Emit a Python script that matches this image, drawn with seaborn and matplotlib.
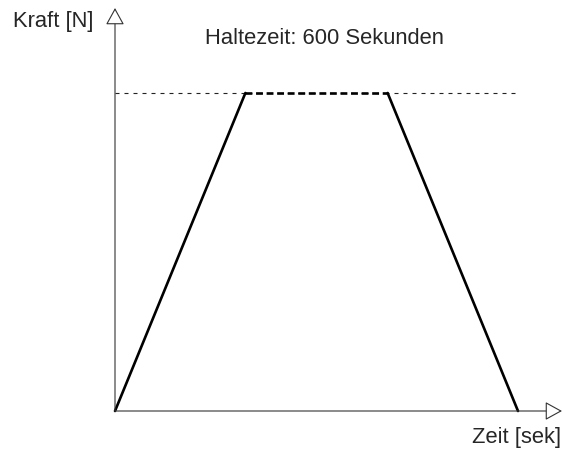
import numpy as np
import pandas as pd
import seaborn as sns
import matplotlib.pyplot as plt

# --- Data (illustrative force profile) ---
zeit = [0, 550, 1150, 1700]          # seconds
kraft = [0, 100, 100, 0]             # force level
phase = ["Anstieg", "Halten", "Abfall"]
y_label = "Kraft [N]"
x_label = "Zeit [sek]"
title = "Haltezeit: 600 Sekunden"

# --- Figure setup ---
sns.set_theme(style="white")
plt.rcParams["font.family"] = ["Liberation Sans", "DejaVu Sans"]
fig = plt.figure(figsize=(5.66, 4.5), dpi=100)
ax = fig.add_axes([0, 0, 1, 1])
ax.set_axis_off()

# map data to pixels: x=0 -> 115px, x=1700 -> 518px ; y=0 -> 411px, y=100 -> 93px
sx = 1700 / 403
sy = 100 / 318
ax.set_xlim(-115 * sx, 1700 + 48 * sx)
ax.set_ylim(-39 * sy, 100 + 93 * sy)

# --- Axes with hollow arrow heads ---
arrow = dict(arrowstyle="-|>,head_length=1.0,head_width=0.55", color="#333333",
             lw=0.8, fc="white", shrinkA=0, shrinkB=0, mutation_scale=10.5)
ax.annotate("", xy=(0, 100 + 85 * sy), xytext=(0, 0), arrowprops=arrow)
ax.annotate("", xy=(1700 + 44 * sx, 0), xytext=(0, 0), arrowprops=arrow)

# --- Reference line for the holding level ---
ax.plot([0, zeit[-1]], [kraft[1], kraft[1]], color="#222222", lw=0.8,
        dashes=(3.6, 4.5))

# --- Force profile ---
df = pd.DataFrame({"zeit": zeit, "kraft": kraft})
for i, p in enumerate(phase):
    seg = df.iloc[i:i + 2]
    sns.lineplot(x="zeit", y="kraft", data=seg, ax=ax, color="black",
                 lw=1.9, sort=False, legend=False,
                 linestyle="--" if p == "Halten" else "-")
    if p == "Halten":
        ax.lines[-1].set_dashes((2.6, 1.4))
        ax.lines[-1].set_gapcolor("white")
ax.set_xlabel("")
ax.set_ylabel("")

# --- Labels ---
fig.text(13 / 566, 1 - 22 / 450, y_label, fontsize=15.8, va="center", ha="left")
fig.text(205 / 566, 1 - 38 / 450, title, fontsize=15.8, va="center", ha="left")
fig.text(561 / 566, 1 - 437 / 450, x_label, fontsize=15.8, va="center", ha="right")

fig.savefig("out.png", dpi=100)
